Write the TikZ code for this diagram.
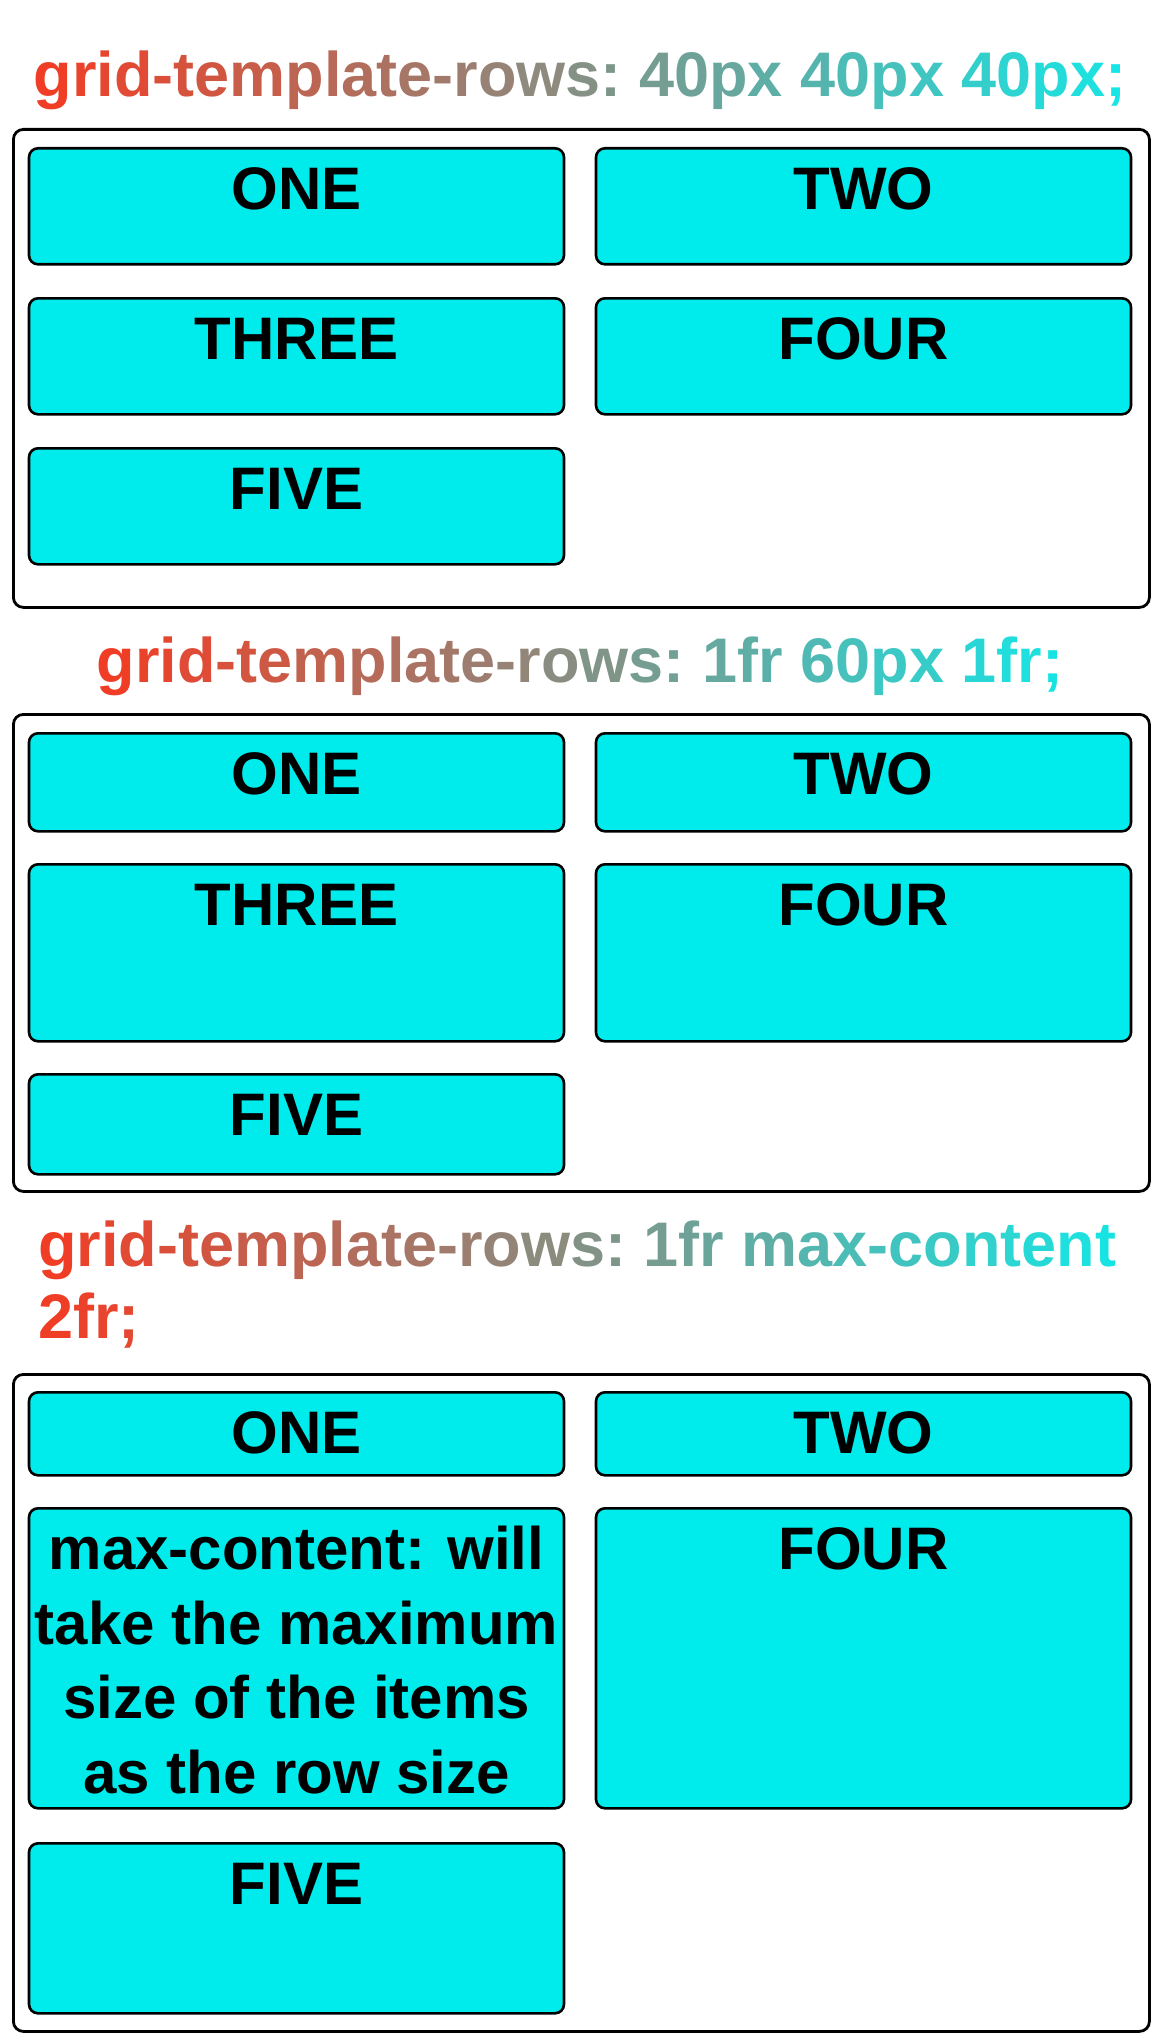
\documentclass[tikz,border=0pt]{standalone}
\usepackage{fontspec}
\setmainfont{Liberation Sans}
\definecolor{gStart}{RGB}{245,58,34}
\definecolor{gEnd}{RGB}{20,231,231}
\definecolor{cellfill}{RGB}{0,235,235}

\ExplSyntaxOn
\dim_new:N \l_grad_total_dim
\dim_new:N \l_grad_run_dim
\box_new:N \l_grad_box
\tl_new:N \l_grad_pct_tl
\NewDocumentCommand \gradtext { m m }
  {
    \hbox_set:Nn \l_grad_box { #1 }
    \dim_set:Nn \l_grad_total_dim { \box_wd:N \l_grad_box }
    \dim_zero:N \l_grad_run_dim
    \str_map_inline:nn { #2 }
      {
        \str_if_eq:nnTF { ##1 } { ~ }
          {
            \hbox_set:Nn \l_grad_box { ~ }
            \box_use:N \l_grad_box
            \dim_add:Nn \l_grad_run_dim { \box_wd:N \l_grad_box }
          }
          {
            \hbox_set:Nn \l_grad_box { ##1 }
            \tl_set:Nx \l_grad_pct_tl
              {
                \fp_eval:n
                  {
                    round ( 100 * ( \dim_to_fp:n { \l_grad_run_dim }
                      + 0.5 * \dim_to_fp:n { \box_wd:N \l_grad_box } )
                      / \dim_to_fp:n { \l_grad_total_dim } )
                  }
              }
            \hbox_set:Nn \l_grad_box { \textcolor{gEnd!\l_grad_pct_tl!gStart}{##1} }
            \box_use:N \l_grad_box
            \dim_add:Nn \l_grad_run_dim { \box_wd:N \l_grad_box }
          }
      }
  }
\ExplSyntaxOff

\newcommand\titlefont{\fontsize{63}{72}\selectfont\bfseries}
\newcommand\cellfont{\fontsize{60}{74.7}\selectfont\bfseries}

\tikzset{
  x=1pt, y=-1pt,
  outerbox/.style={draw=black, line width=2.8pt, rounded corners=10pt,
    inner sep=0pt, minimum width=1136pt, anchor=north west},
  cell/.style={draw=black, line width=2.6pt, rounded corners=9pt,
    fill=cellfill, inner sep=0pt, minimum width=535pt, anchor=north,
    font=\cellfont, text height=61pt},
  titletext/.style={inner sep=0pt, font=\titlefont},
}

\begin{document}
\begin{tikzpicture}
\useasboundingbox (0,0) rectangle (1155,2044);
\fill[white] (0,0) rectangle (1155,2044);

% ---------- block 1 ----------
\node[titletext, anchor=base] (t1) at (580,97)
  {\gradtext{grid-template-rows: 40px 40px 40px;}{grid-template-rows: 40px 40px 40px;}};
\node[outerbox, minimum height=478pt] (g1) at (12,128) {};
\node[cell, text depth=55pt] (g1a) at (296.5,147) {ONE};
\node[cell, text depth=55pt] (g1b) at (863.5,147) {TWO};
\node[cell, text depth=55pt] (g1c) at (296.5,297) {THREE};
\node[cell, text depth=55pt] (g1d) at (863.5,297) {FOUR};
\node[cell, text depth=55pt] (g1e) at (296.5,447) {FIVE};

% ---------- block 2 ----------
\node[titletext, anchor=base] (t2) at (580,682)
  {\gradtext{grid-template-rows: 1fr 60px 1fr;}{grid-template-rows: 1fr 60px 1fr;}};
\node[outerbox, minimum height=477pt] (g2) at (12,713) {};
\node[cell, text depth=37pt] (g2a) at (296.5,732) {ONE};
\node[cell, text depth=37pt] (g2b) at (863.5,732) {TWO};
\node[cell, text depth=116pt] (g2c) at (296.5,863) {THREE};
\node[cell, text depth=116pt] (g2d) at (863.5,863) {FOUR};
\node[cell, text depth=39pt] (g2e) at (296.5,1073) {FIVE};

% ---------- block 3 ----------
\node[titletext, anchor=base west] (t3a) at (38,1266)
  {\gradtext{grid-template-rows: 1fr max-content}{grid-template-rows: 1fr max-content}};
\node[titletext, anchor=base west] (t3b) at (38,1338)
  {\gradtext{grid-template-rows: 1fr max-content}{2fr;}};
\node[outerbox, minimum height=657pt] (g3) at (12,1373) {};
\node[cell, text depth=22pt] (g3a) at (296.5,1391) {ONE};
\node[cell, text depth=22pt] (g3b) at (863.5,1391) {TWO};
\node[cell, text depth=239pt] (g3c) at (296.5,1507)
  {\vtop{\hsize=535pt\centering\baselineskip=74.7pt
   max-content: will\\take the maximum\\size of the items\\as the row size\par}};
\node[cell, text depth=239pt] (g3d) at (863.5,1507) {FOUR};
\node[cell, text depth=109pt] (g3e) at (296.5,1842) {FIVE};
\end{tikzpicture}
\end{document}
